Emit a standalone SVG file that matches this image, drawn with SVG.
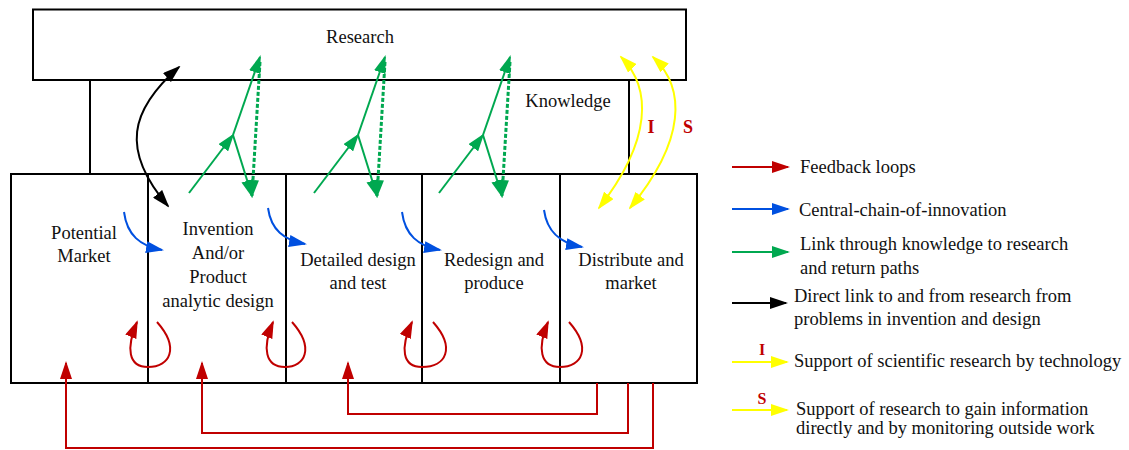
<svg xmlns="http://www.w3.org/2000/svg" width="1129" height="450" viewBox="0 0 1129 450">
<style>
.box{fill:#fff;stroke:#000;stroke-width:2}
.t{font-family:"Liberation Serif","Times New Roman",serif;font-size:18.5px;fill:#111}
.c{text-anchor:middle}
.lbl{font-family:"Liberation Serif","Times New Roman",serif;font-weight:bold;fill:#C00000;text-anchor:middle}
.red{fill:none;stroke:#C00000;stroke-width:2}
.blue{fill:none;stroke:#0050E0;stroke-width:2}
.green{fill:none;stroke:#00A850;stroke-width:2}
.gdash{fill:none;stroke:#00A850;stroke-width:3;stroke-dasharray:4 2}
.black{fill:none;stroke:#000;stroke-width:2}
.yellow{fill:none;stroke:#FFFF00;stroke-width:2}
</style>
<defs>
<marker id="mr" viewBox="0 0 18 12" markerUnits="userSpaceOnUse" markerWidth="18" markerHeight="12" refX="16" refY="6" orient="auto-start-reverse"><path d="M0,0 L18,6 L0,12 z" fill="#C00000"/></marker>
<marker id="mb" viewBox="0 0 18 12" markerUnits="userSpaceOnUse" markerWidth="18" markerHeight="12" refX="16" refY="6" orient="auto-start-reverse"><path d="M0,0 L18,6 L0,12 z" fill="#0050E0"/></marker>
<marker id="mg" viewBox="0 0 18 12" markerUnits="userSpaceOnUse" markerWidth="18" markerHeight="12" refX="16" refY="6" orient="auto-start-reverse"><path d="M0,0 L18,6 L0,12 z" fill="#00A850"/></marker>
<marker id="mk" viewBox="0 0 18 12" markerUnits="userSpaceOnUse" markerWidth="18" markerHeight="12" refX="16" refY="6" orient="auto-start-reverse"><path d="M0,0 L18,6 L0,12 z" fill="#000"/></marker>
<marker id="my" viewBox="0 0 18 12" markerUnits="userSpaceOnUse" markerWidth="18" markerHeight="12" refX="16" refY="6" orient="auto-start-reverse"><path d="M0,0 L18,6 L0,12 z" fill="#FFFF00"/></marker>
</defs>
<rect width="1129" height="450" fill="#fff"/>

<g id="research"><rect class="box" x="33" y="9.5" width="653" height="70.5"/><text class="t c" x="360" y="43">Research</text></g>
<g id="knowledge"><rect class="box" x="90" y="80" width="539" height="94"/><text class="t c" x="568" y="107">Knowledge</text></g>
<g id="potential-market"><rect class="box" x="11" y="174" width="137" height="209"/><text class="t c" x="84" y="239">Potential</text><text class="t c" x="84" y="262">Market</text></g>
<g id="invention"><rect class="box" x="148" y="174" width="138" height="209"/><text class="t c" x="218" y="235">Invention</text><text class="t c" x="218" y="259">And/or</text><text class="t c" x="218" y="283">Product</text><text class="t c" x="218" y="307">analytic design</text></g>
<g id="detailed-design"><rect class="box" x="286" y="174" width="136" height="209"/><text class="t c" x="358" y="266">Detailed design</text><text class="t c" x="358" y="289">and test</text></g>
<g id="redesign"><rect class="box" x="422" y="174" width="138" height="209"/><text class="t c" x="494" y="266">Redesign and</text><text class="t c" x="494" y="289">produce</text></g>
<g id="distribute"><rect class="box" x="560" y="174" width="137" height="209"/><text class="t c" x="631" y="266">Distribute and</text><text class="t c" x="631" y="289">market</text></g>

<g id="connectors">
<path class="blue" marker-end="url(#mb)" d="M124,212 C127,235 140,246 162,250"/>
<path class="blue" marker-end="url(#mb)" d="M268,208 C271,230 284,240 305,244"/>
<path class="blue" marker-end="url(#mb)" d="M402,212 C405,235 418,246 440,250"/>
<path class="blue" marker-end="url(#mb)" d="M544,210 C547,232 560,243 582,247"/>
<path class="red" marker-end="url(#mr)" d="M157,322 C180,348 170,367 148,367 C128,367 126,348 137,322"/>
<path class="red" marker-end="url(#mr)" d="M292,322 C315,348 305,367 285,367 C265,367 262,348 273,322"/>
<path class="red" marker-end="url(#mr)" d="M433,322 C456,348 446,367 422,367 C402,367 400,348 412,322"/>
<path class="red" marker-end="url(#mr)" d="M569,322 C592,348 582,367 560,367 C540,367 537,348 548,322"/>
<path class="red" marker-end="url(#mr)" d="M653,383 V448 H66 V363"/>
<path class="red" marker-end="url(#mr)" d="M628,383 V433 H202 V363"/>
<path class="red" marker-end="url(#mr)" d="M597,383 V414 H348 V363"/>
<path class="black" marker-start="url(#mk)" marker-end="url(#mk)" d="M179,67 C130,110 120,150 168,206"/>
<g id="green1">
<path class="green" marker-end="url(#mg)" d="M189,193 L233,135"/>
<path class="green" marker-end="url(#mg)" d="M233,135 L260,57"/>
<path class="green" marker-end="url(#mg)" d="M233,135 L252,196"/>
<path class="gdash" marker-end="url(#mg)" d="M260,62 L252,196"/>
</g>
<g id="green2">
<path class="green" marker-end="url(#mg)" d="M314,193 L358,135"/>
<path class="green" marker-end="url(#mg)" d="M358,135 L385,57"/>
<path class="green" marker-end="url(#mg)" d="M358,135 L377,196"/>
<path class="gdash" marker-end="url(#mg)" d="M385,62 L377,196"/>
</g>
<g id="green3">
<path class="green" marker-end="url(#mg)" d="M439,193 L483,135"/>
<path class="green" marker-end="url(#mg)" d="M483,135 L510,57"/>
<path class="green" marker-end="url(#mg)" d="M483,135 L502,196"/>
<path class="gdash" marker-end="url(#mg)" d="M510,62 L502,196"/>
</g>
<path class="yellow" marker-start="url(#my)" marker-end="url(#my)" d="M621,57 C652,88 652,140 599,208"/>
<path class="yellow" marker-start="url(#my)" marker-end="url(#my)" d="M653,57 C686,88 686,140 630,208"/>
<text class="lbl" x="651" y="133" font-size="18">I</text>
<text class="lbl" x="688" y="133" font-size="18">S</text>
</g>

<g id="legend">
<line class="red" marker-end="url(#mr)" x1="732" y1="167" x2="788" y2="167"/>
<text class="t" x="800" y="173">Feedback loops</text>
<line class="blue" marker-end="url(#mb)" x1="732" y1="209" x2="788" y2="209"/>
<text class="t" x="799" y="216">Central-chain-of-innovation</text>
<line class="green" marker-end="url(#mg)" x1="732" y1="252" x2="788" y2="252"/>
<text class="t" x="800" y="250">Link through knowledge to research</text>
<text class="t" x="800" y="274">and return paths</text>
<line class="black" marker-end="url(#mk)" x1="732" y1="303" x2="786" y2="303"/>
<text class="t" x="794" y="302">Direct link to and from research from</text>
<text class="t" x="794" y="325">problems in invention and design</text>
<line class="yellow" marker-end="url(#my)" x1="732" y1="362" x2="787" y2="362"/>
<text class="lbl" x="762" y="355" font-size="16">I</text>
<text class="t" x="794" y="367">Support of scientific research by technology</text>
<line class="yellow" marker-end="url(#my)" x1="732" y1="410" x2="787" y2="410"/>
<text class="lbl" x="762" y="404" font-size="16">S</text>
<text class="t" x="796" y="415">Support of research to gain information</text>
<text class="t" x="796" y="434">directly and by monitoring outside work</text>
</g>
</svg>
